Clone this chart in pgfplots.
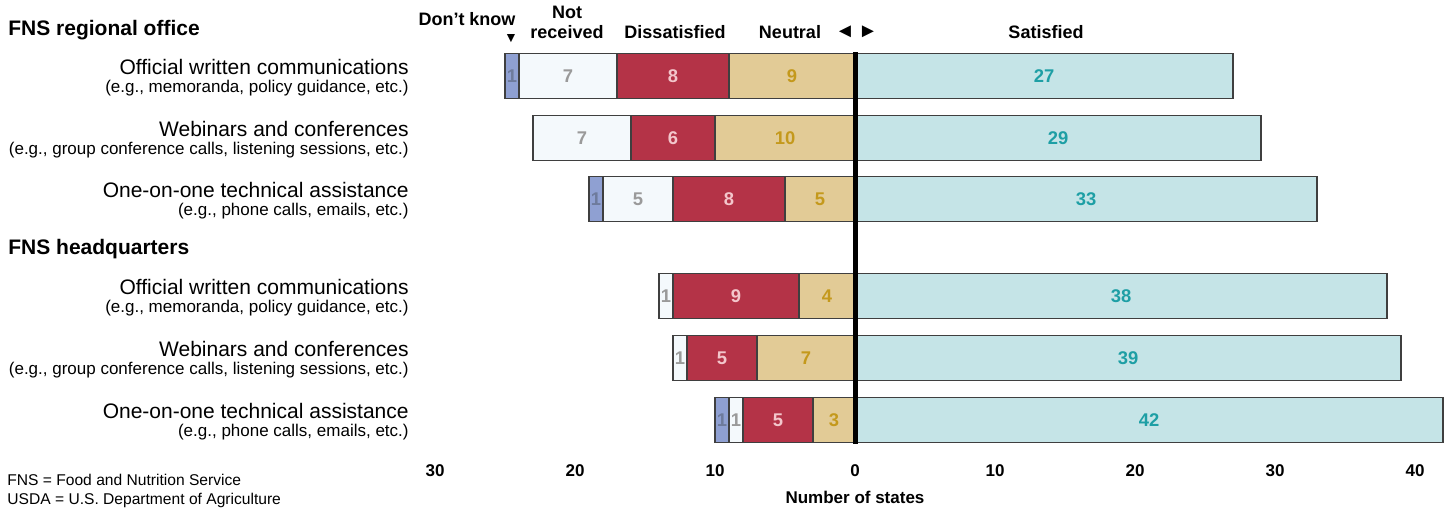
\documentclass[border=0pt]{standalone}
\usepackage{fontspec}
\setmainfont{Liberation Sans}
\usepackage{pgfplots}
\pgfplotsset{compat=1.18}

\definecolor{dkfill}{HTML}{8FA0D2}
\definecolor{dktext}{HTML}{6E7B9C}
\definecolor{nrfill}{HTML}{F4F9FC}
\definecolor{nrtext}{HTML}{9A9A9A}
\definecolor{disfill}{HTML}{B43347}
\definecolor{distext}{HTML}{F3C6CB}
\definecolor{neufill}{HTML}{E2CB96}
\definecolor{neutext}{HTML}{C4991C}
\definecolor{satfill}{HTML}{C5E4E7}
\definecolor{sattext}{HTML}{1E9FA5}
\definecolor{edge}{HTML}{3F3F3F}

\pgfplotsset{
  frame/.style={
    scale only axis, width=514.5pt, height=227.5pt,
    xmin=-31, xmax=42.5, ymin=0, ymax=455, y dir=reverse,
    at={(210.5pt,256pt)}, anchor=north west,
    axis line style={draw=none}, major tick length=0pt,
    ytick=\empty, clip=false,
  },
  seg/.style={fill=#1, draw=edge, line width=0.7pt},
  lbl/.style={draw=none, mark=none, nodes near coords, point meta=explicit symbolic,
    every node near coord/.append style={anchor=center, inner sep=0pt,
      font=\bfseries\fontsize{9.2}{10}\selectfont, text=#1}},
}

\begin{document}
\begin{tikzpicture}
% left side: stacked negative segments
\begin{axis}[frame, xbar stacked, bar width=22.5pt, xtick=\empty]
\addplot[seg=neufill] coordinates {(-9,76) (-10,138) (-5,199) (-4,296) (-7,358) (-3,420)};
\addplot[seg=disfill] coordinates {(-8,76) (-6,138) (-8,199) (-9,296) (-5,358) (-5,420)};
\addplot[seg=nrfill]  coordinates {(-7,76) (-7,138) (-5,199) (-1,296) (-1,358) (-1,420)};
\addplot[seg=dkfill]  coordinates {(-1,76) (0,138) (-1,199) (0,296) (0,358) (-1,420)};
\end{axis}
% right side and value labels
\begin{axis}[frame,
  xtick={-30,-20,-10,0,10,20,30,40},
  xticklabels={30,20,10,0,10,20,30,40},
  xticklabel style={font=\bfseries\fontsize{8.5}{10}\selectfont, yshift=-1pt}]
\addplot[xbar, bar width=22.5pt, bar shift=0pt, seg=satfill]
  coordinates {(27,76) (29,138) (33,199) (38,296) (39,358) (42,420)};
\addplot[lbl=sattext] coordinates {(13.5,76)[27] (14.5,138)[29] (16.5,199)[33] (19,296)[38] (19.5,358)[39] (21,420)[42]};
\addplot[lbl=neutext] coordinates {(-4.5,76)[9] (-5,138)[10] (-2.5,199)[5] (-2,296)[4] (-3.5,358)[7] (-1.5,420)[3]};
\addplot[lbl=distext] coordinates {(-13,76)[8] (-13,138)[6] (-9,199)[8] (-8.5,296)[9] (-9.5,358)[5] (-5.5,420)[5]};
\addplot[lbl=nrtext] coordinates {(-20.5,76)[7] (-19.5,138)[7] (-15.5,199)[5] (-13.5,296)[1] (-12.5,358)[1] (-8.5,420)[1]};
\addplot[lbl=dktext] coordinates {(-24.5,76)[1] (-18.5,199)[1] (-9.5,420)[1]};
\draw[line width=2.5pt, black] (axis cs:0,52) -- (axis cs:0,444);
\end{axis}
% texts, placed in pixel units from the top left corner
\begin{scope}[shift={(0,256pt)}, x=0.5pt, y=-0.5pt]
\path[use as bounding box] (0,0) rectangle (1452,512);
\tikzset{hd/.style={font=\bfseries\fontsize{10.5}{12}\selectfont, anchor=west, inner sep=0pt},
  cat/.style={font=\fontsize{10.5}{12}\selectfont, anchor=east, inner sep=0pt},
  sub/.style={font=\fontsize{8.5}{10}\selectfont, anchor=east, inner sep=0pt},
  top/.style={font=\bfseries\fontsize{9}{10}\selectfont, inner sep=0pt}}
\node[hd] at (8,30) {FNS regional office};
\node[hd] at (8,249) {FNS headquarters};
\foreach \y/\a/\b in {
  76/Official written communications/{(e.g., memoranda, policy guidance, etc.)},
  138/Webinars and conferences/{(e.g., group conference calls, listening sessions, etc.)},
  199/One-on-one technical assistance/{(e.g., phone calls, emails, etc.)},
  296/Official written communications/{(e.g., memoranda, policy guidance, etc.)},
  358/Webinars and conferences/{(e.g., group conference calls, listening sessions, etc.)},
  420/One-on-one technical assistance/{(e.g., phone calls, emails, etc.)}}{
  \node[cat] at (409,\y-9) {\a};
  \node[sub] at (409,\y+12) {\b};
}
\node[top] at (467,19) {Don’t know};
\node[top, font=\fontsize{7}{8}\selectfont] at (511,38) {▼};
\node[top] at (567,12) {Not};
\node[top] at (567,32) {received};
\node[top] at (675,32) {Dissatisfied};
\node[top] at (790,32) {Neutral};
\node[top, font=\fontsize{10}{10}\selectfont] at (845,32) {◄};
\node[top, font=\fontsize{10}{10}\selectfont] at (868,32) {►};
\node[top] at (1046,32) {Satisfied};
\node[top, font=\bfseries\fontsize{8.5}{10}\selectfont] at (855,497) {Number of states};
\node[anchor=west, inner sep=0pt, font=\fontsize{7.8}{10}\selectfont] at (7,480) {FNS = Food and Nutrition Service};
\node[anchor=west, inner sep=0pt, font=\fontsize{7.8}{10}\selectfont] at (7,500) {USDA = U.S. Department of Agriculture};
\end{scope}
\end{tikzpicture}
\end{document}
